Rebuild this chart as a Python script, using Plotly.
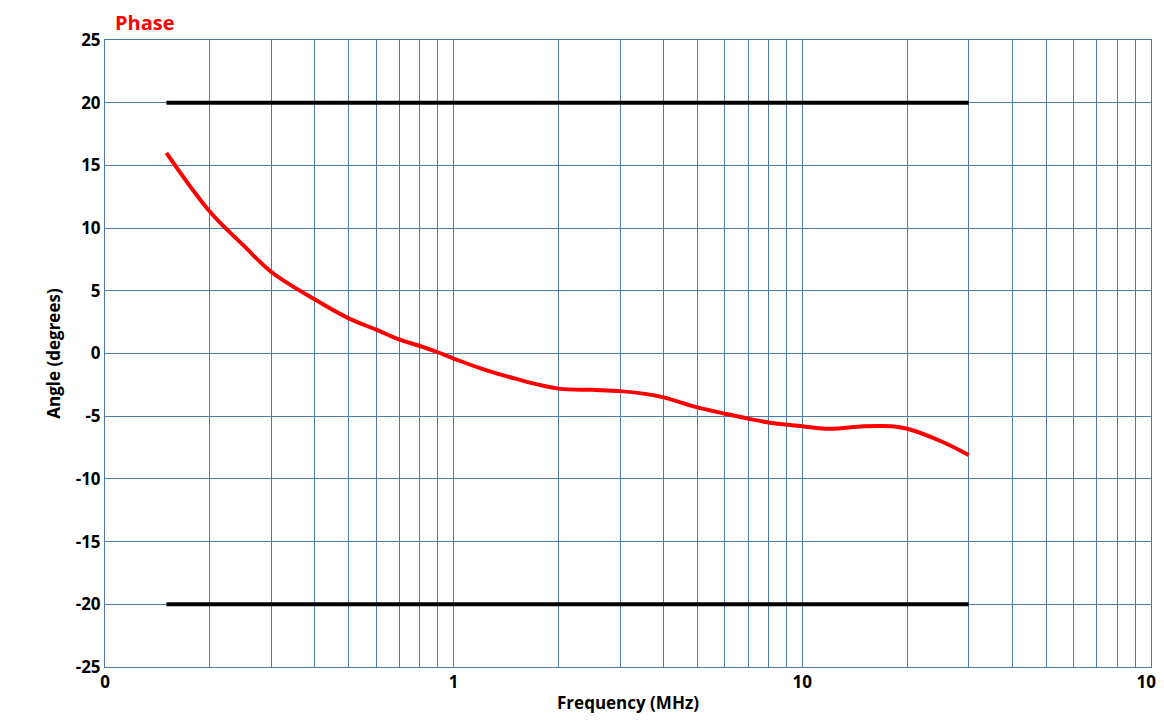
import plotly.graph_objects as go

freq = [0.15, 0.2, 0.25, 0.3, 0.4, 0.5, 0.6, 0.7, 0.8, 0.9, 1.0, 1.2, 1.5, 2.0, 2.5, 3.0, 3.5,
        4.0, 5.0, 6.0, 7.0, 8.0, 10.0, 12.0, 15.0, 18.0, 20.0, 25.0, 30.0]
phase = [16.0, 11.3, 8.6, 6.5, 4.3, 2.8, 1.9, 1.1, 0.6, 0.1, -0.4, -1.2, -2.0, -2.8, -2.9, -3.0, -3.2,
         -3.5, -4.3, -4.8, -5.2, -5.5, -5.8, -6.0, -5.8, -5.8, -6.0, -7.0, -8.1]
limit_x = [0.15, 30]
upper = [20, 20]
lower = [-20, -20]

grid_vals = [m * 10 ** e for e in (-1, 0, 1) for m in range(1, 10)] + [100]
grid_text = ["<b>0</b>" if v == 0.1 else ("<b>%g</b>" % v if v in (1, 10, 100) else "") for v in grid_vals]
y_vals = list(range(-25, 30, 5))
y_text = ["<b>%d</b>" % v for v in y_vals]

fig = go.Figure()
fig.add_trace(go.Scatter(x=limit_x, y=upper, mode="lines", line=dict(color="black", width=4)))
fig.add_trace(go.Scatter(x=limit_x, y=lower, mode="lines", line=dict(color="black", width=4)))
fig.add_trace(go.Scatter(x=freq, y=phase, mode="lines", line=dict(color="#ff0000", width=4, shape="spline")))

font = dict(family="Open Sans", size=17, color="black")
fig.update_layout(
    width=1164, height=723, showlegend=False,
    plot_bgcolor="white", paper_bgcolor="white",
    margin=dict(l=97, r=21, t=32, b=64),
    xaxis=dict(type="log", range=[-1, 2], tickvals=grid_vals, ticktext=grid_text,
               gridcolor="#4f7bab", gridwidth=1, showline=True, linecolor="#4f7bab",
               mirror=True, ticks="", tickfont=font, automargin=False,
               title=dict(text="<b>Frequency (MHz)</b>", font=font, standoff=4)),
    yaxis=dict(range=[-25, 25], tickvals=y_vals, ticktext=y_text, gridcolor="#4f7bab", showline=True,
               linecolor="#4f7bab", mirror=True, zeroline=False, tickfont=font, automargin=False,
               ticks="", title=dict(text="<b>Angle (degrees)</b>", font=font, standoff=10)),
    annotations=[dict(text="<b>Phase</b>", xref="paper", yref="paper", x=0.0, y=1.0,
                      xanchor="left", yanchor="bottom", xshift=8, yshift=2, showarrow=False,
                      font=dict(family="Open Sans", size=20, color="#ff0000"))],
)
fig.write_html("out.html")
